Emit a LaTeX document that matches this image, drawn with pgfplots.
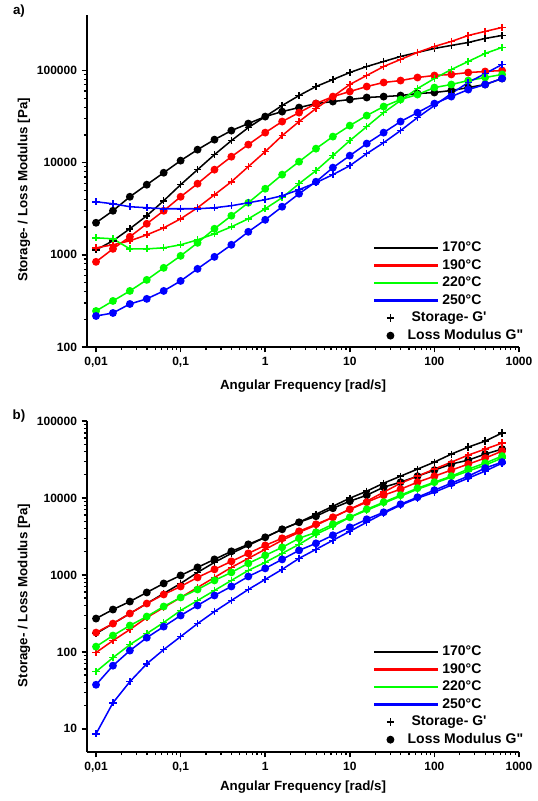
\documentclass[border=0pt]{standalone}
\usepackage{fontspec}
\setmainfont{Liberation Sans}[Ligatures=TeXOff]
\usepackage{pgfplots}
\usepackage{pgfplotstable}
\pgfplotsset{compat=1.18}
\definecolor{cR}{RGB}{255,0,0}
\definecolor{cG}{RGB}{0,255,0}
\definecolor{cB}{RGB}{0,0,255}

\pgfplotstableread{
w       bp      bpp     rp      rpp     gp      gpp     up      upp
0.01    1132    2228    1191    840     1531    246     3767    217
0.01585 1419    3006    1285    1161    1493    316     3581    234
0.02512 1919    4266    1419    1570    1161    406     3327    293
0.03981 2655    5768    1648    2173    1161    535     3243    333
0.0631  3864    7780    1963    3006    1191    723     3162    406
0.1     5768    10520   2460    4266    1285    975     3162    521
0.1585  8395    13840   3243    5916    1455    1349    3162    705
0.2512  12220   17780   4487    8395    1690    1919    3243    951
0.3981  17340   22280   6209    11610   2014    2655    3412    1285
0.631   23990   26550   9057    15700   2460    3673    3673    1778
1       31620   31620   13180   21180   3162    5212    3963    2399
1.585   41690   35810   19630   27930   4169    7413    4375    3327
2.512   53460   39630   27930   34910   5916    10250   5093    4603
3.981   66990   43750   38640   43750   8185    14190   6067    6209
6.31    79800   46030   52120   52120   11910   19190   7413    8831
10      95060   48420   70470   59160   17340   25230   9268    11910
15.85   110400  50930   88310   66990   24600   32430   12530   16110
25.12   125300  52120   110400  74130   34910   40640   16480   21180
39.81   141900  53460   131800  77800   47210   48420   22280   27930
63.1    157000  56230   157000  83950   63680   54830   30830   34910
100     173400  57680   182400  88310   81850   65310   41690   43750
158.5   187100  60670   206500  90570   102500  70470   56230   52120
251.2   201400  65310   239900  95060   125300  77800   74130   62090
398.1   222800  70470   265500  97500   153100  83950   92680   70470
631     239900  81850   293100  100000  177800  90570   116100  81850
}\topdata

\pgfplotstableread{
w       bp      bpp     rp      rpp     gp      gpp     up      upp
0.01    173     271     98      178     55.3    117     8.6     37.4
0.01585 233     355     140     233     84.1    163     21.8    66.2
0.02512 315     451     195     315     124     220     41      104
0.03981 425     592     279     425     173     288     70      153
0.0631  574     775     377     557     241     389     107     213
0.1     775     985     509     708     345     509     158     297
0.1585  1078    1253    687     927     465     647     233     401
0.2512  1455    1592    927     1180    628     848     334     541
0.3981  1905    2024    1253    1500    848     1078    465     708
0.631   2421    2496    1641    1905    1145    1413    647     955
1       3081    3081    2149    2421    1455    1795    874     1216
1.585   3917    3917    2818    2990    1905    2281    1180    1592
2.512   4831    4831    3581    3687    2496    2990    1641    2085
3.981   6143    5785    4416    4550    3373    3581    2149    2572
6.31    7810    7350    5611    5611    4285    4550    2818    3273
10      9930    9070    7129    7129    5611    5611    3687    4159
15.85   12250   10860   9070    8810    6918    7129    4831    5284
25.12   15560   13800   11880   10860   8551    8810    6330    6518
39.81   19190   16030   15560   13000   10540   10860   8054    8295
63.1    23710   19190   19190   16030   13000   13400   9930    10230
100     29240   23010   23710   19190   15560   16030   11880   12620
158.5   37150   27540   29240   23010   18620   19190   14660   15560
251.2   45810   31040   36060   27540   22330   23710   18080   19190
398.1   54830   37150   43150   32960   26730   28380   22330   24430
631     69810   43150   51640   40640   32960   34990   28380   29240
}\botdata

\pgfplotsset{
  myLineLeg/.style={legend image code/.code={\draw[##1, line width=1.8pt] (0pt,0pt) -- (48pt,0pt);}},
  myMarkLeg/.style={legend image code/.code={\path[draw=none] (0pt,0pt) -- (48pt,0pt); \draw[##1] plot coordinates {(12pt,0pt)};}},
}
\tikzset{
  mySp/.style={mark=+, mark size=2.7pt, line width=1.15pt},
  mySpp/.style={mark=*, mark size=2.35pt, line width=1.15pt},
}

\begin{document}
\begin{tikzpicture}
\path[use as bounding box] (0pt,0pt) rectangle (402.75pt,-600.75pt);

\begin{axis}[at={(65.25pt,-11.25pt)}, anchor=north west,
    scale only axis, width=324pt, height=249pt,
    xmode=log, ymode=log, xmin=0.00782, xmax=1000,
    ymin=100, ymax=400000,
    axis x line*=bottom, axis y line*=left,
    axis line style={line width=1.4pt},
    tick align=outside,
    major tick length=4pt, minor tick length=2.4pt,
    every major tick/.append style={line width=1.1pt, black},
    every minor tick/.append style={line width=0.9pt, black},
    xtick={0.01,0.1,1,10,100,1000},
    xticklabels={{0,01},{0,1},1,10,100,1000},
    ytick={100,1000,10000,100000}, yticklabels={100,1000,10000,100000},
    tick label style={font=\bfseries\fontsize{9}{10}\selectfont},
    label style={font=\bfseries\fontsize{10}{12}\selectfont},
    xlabel={Angular Frequency [rad/s]},
    ylabel={Storage- / Loss Modulus [Pa]},
    ylabel style={at={(axis description cs:-0.1458,0.473)}, anchor=center},
    xlabel style={at={(axis description cs:0.5,-0.117)}, anchor=center},
    legend style={draw=none, fill=none, anchor=north west, inner sep=0pt,
      font=\bfseries\fontsize{10.5}{12}\selectfont, row sep=0.3pt,
      at={(axis description cs:0.662,0.325)}},
    legend cell align=left]
\addplot[black, mySp, forget plot] table[x=w,y=bp]{\topdata};
\addplot[black, mySpp, forget plot] table[x=w,y=bpp]{\topdata};
\addplot[cR, mySp, forget plot] table[x=w,y=rp]{\topdata};
\addplot[cR, mySpp, forget plot] table[x=w,y=rpp]{\topdata};
\addplot[cG, mySp, forget plot] table[x=w,y=gp]{\topdata};
\addplot[cG, mySpp, forget plot] table[x=w,y=gpp]{\topdata};
\addplot[cB, mySp, forget plot] table[x=w,y=up]{\topdata};
\addplot[cB, mySpp, forget plot] table[x=w,y=upp]{\topdata};
\addlegendimage{black, myLineLeg}\addlegendentry{170°C}
\addlegendimage{cR, myLineLeg}\addlegendentry{190°C}
\addlegendimage{cG, myLineLeg}\addlegendentry{220°C}
\addlegendimage{cB, myLineLeg}\addlegendentry{250°C}
\addlegendimage{black, mySp, myMarkLeg}\addlegendentry{\hspace*{-23pt}Storage- G'}
\addlegendimage{black, mySpp, myMarkLeg}\addlegendentry{\hspace*{-26pt}Loss Modulus G"}
\end{axis}

\begin{axis}[at={(65.25pt,-315.75pt)}, anchor=north west,
    scale only axis, width=324pt, height=248.25pt,
    xmode=log, ymode=log, xmin=0.00782, xmax=1000,
    ymin=5, ymax=100000,
    axis x line*=bottom, axis y line*=left,
    axis line style={line width=1.4pt},
    tick align=outside,
    major tick length=4pt, minor tick length=2.4pt,
    every major tick/.append style={line width=1.1pt, black},
    every minor tick/.append style={line width=0.9pt, black},
    xtick={0.01,0.1,1,10,100,1000},
    xticklabels={{0,01},{0,1},1,10,100,1000},
    ytick={10,100,1000,10000,100000}, yticklabels={10,100,1000,10000,100000},
    tick label style={font=\bfseries\fontsize{9}{10}\selectfont},
    label style={font=\bfseries\fontsize{10}{12}\selectfont},
    xlabel={Angular Frequency [rad/s]},
    ylabel={Storage- / Loss Modulus [Pa]},
    ylabel style={at={(axis description cs:-0.1458,0.473)}, anchor=center},
    xlabel style={at={(axis description cs:0.5,-0.106)}, anchor=center},
    legend style={draw=none, fill=none, anchor=north west, inner sep=0pt,
      font=\bfseries\fontsize{10.5}{12}\selectfont, row sep=0.3pt,
      at={(axis description cs:0.662,0.329)}},
    legend cell align=left]
\addplot[black, mySp, forget plot] table[x=w,y=bp]{\botdata};
\addplot[black, mySpp, forget plot] table[x=w,y=bpp]{\botdata};
\addplot[cR, mySp, forget plot] table[x=w,y=rp]{\botdata};
\addplot[cR, mySpp, forget plot] table[x=w,y=rpp]{\botdata};
\addplot[cG, mySp, forget plot] table[x=w,y=gp]{\botdata};
\addplot[cG, mySpp, forget plot] table[x=w,y=gpp]{\botdata};
\addplot[cB, mySp, forget plot] table[x=w,y=up]{\botdata};
\addplot[cB, mySpp, forget plot] table[x=w,y=upp]{\botdata};
\addlegendimage{black, myLineLeg}\addlegendentry{170°C}
\addlegendimage{cR, myLineLeg}\addlegendentry{190°C}
\addlegendimage{cG, myLineLeg}\addlegendentry{220°C}
\addlegendimage{cB, myLineLeg}\addlegendentry{250°C}
\addlegendimage{black, mySp, myMarkLeg}\addlegendentry{\hspace*{-23pt}Storage- G'}
\addlegendimage{black, mySpp, myMarkLeg}\addlegendentry{\hspace*{-26pt}Loss Modulus G"}
\end{axis}

\node[font=\bfseries\fontsize{10}{12}\selectfont] at (14.25pt,-8.5pt) {a)};
\node[font=\bfseries\fontsize{10}{12}\selectfont] at (14.25pt,-312pt) {b)};
\end{tikzpicture}
\end{document}
